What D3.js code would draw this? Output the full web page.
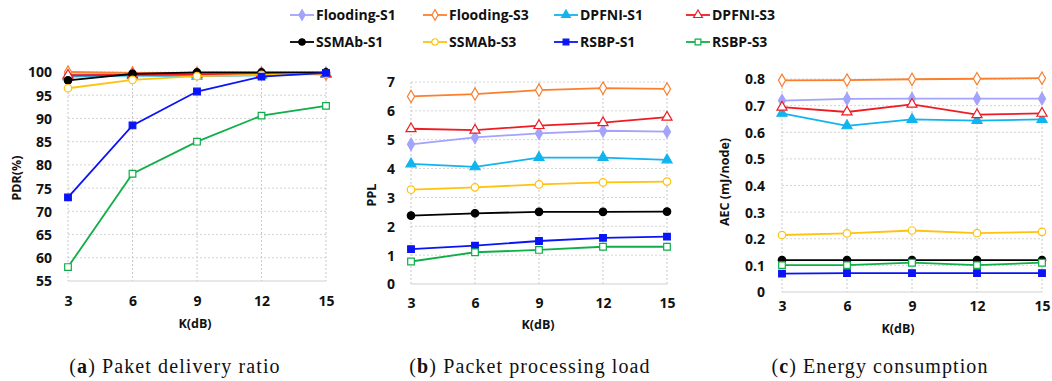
<!DOCTYPE html>
<html>
<head>
<meta charset="utf-8">
<script src="https://cdn.jsdelivr.net/npm/d3@7"></script>
<style>
  body { margin: 0; background: #fff; }
  svg { display: block; }
  .tick-label { font-family: 'Open Sans', sans-serif; font-weight: 700; font-size: 14px; fill: #111; }
  .axis-label { font-family: 'Open Sans', sans-serif; font-weight: 700; font-size: 12.5px; fill: #111; }
  .legend-text { font-family: 'Open Sans', sans-serif; font-weight: 700; font-size: 14px; fill: #111; }
  .caption { font-family: 'Liberation Serif', serif; font-size: 20px; letter-spacing: 1.1px; fill: #111; }
</style>
</head>
<body>
<svg id="chart" width="1052" height="381"></svg>
<script>
// data
const kValues = [3, 6, 9, 12, 15]
const seriesNames = ['Flooding-S1', 'Flooding-S3', 'DPFNI-S1', 'DPFNI-S3', 'SSMAb-S1', 'SSMAb-S3', 'RSBP-S1', 'RSBP-S3']

// (a) PDR(%) per series, same order as seriesNames
const pdrValues = [
    [99.5, 99.6, 99.6, 99.7, 99.7],
    [100, 99.8, 99.8, 99.8, 99.6],
    [99.0, 99.2, 99.1, 99.3, 99.7],
    [99.3, 99.4, 99.5, 99.6, 99.5],
    [98.2, 99.6, 99.9, 99.9, 99.9],
    [96.5, 98.3, 99.1, 99.4, 99.6],
    [73.0, 88.5, 95.8, 99.0, 99.8],
    [58.0, 78.1, 85.0, 90.6, 92.7]
]
// (b) PPL
const pplValues = [
    [4.84, 5.08, 5.22, 5.31, 5.28],
    [6.50, 6.58, 6.72, 6.79, 6.76],
    [4.16, 4.06, 4.38, 4.38, 4.30],
    [5.38, 5.33, 5.49, 5.59, 5.78],
    [2.37, 2.45, 2.50, 2.50, 2.51],
    [3.27, 3.35, 3.45, 3.52, 3.55],
    [1.21, 1.33, 1.49, 1.60, 1.64],
    [0.78, 1.10, 1.18, 1.29, 1.29]
]
// (c) AEC (mJ/node)
const aecValues = [
    [0.719, 0.725, 0.726, 0.726, 0.726],
    [0.795, 0.796, 0.799, 0.801, 0.803],
    [0.671, 0.624, 0.648, 0.644, 0.648],
    [0.694, 0.676, 0.705, 0.666, 0.671],
    [0.120, 0.120, 0.120, 0.120, 0.120],
    [0.214, 0.220, 0.231, 0.221, 0.226],
    [0.069, 0.071, 0.071, 0.071, 0.071],
    [0.101, 0.101, 0.110, 0.101, 0.110]
]
const pdrTicks = [55, 60, 65, 70, 75, 80, 85, 90, 95, 100]
const pplTicks = [0, 1, 2, 3, 4, 5, 6, 7]
const aecTicks = [0, 0.1, 0.2, 0.3, 0.4, 0.5, 0.6, 0.7, 0.8]

// styles
const seriesStyle = [
    { color: '#a3a3fb', symbol: d3.symbolDiamond, filled: true },
    { color: '#fb7f2c', symbol: d3.symbolDiamond, filled: false },
    { color: '#11b4ef', symbol: d3.symbolTriangle, filled: true },
    { color: '#ef1c24', symbol: d3.symbolTriangle, filled: false },
    { color: '#000000', symbol: d3.symbolCircle, filled: true },
    { color: '#ffc20e', symbol: d3.symbolCircle, filled: false },
    { color: '#0a14f5', symbol: d3.symbolSquare, filled: true },
    { color: '#0fae48', symbol: d3.symbolSquare, filled: false }
]
const symbolSize = {}
symbolSize[d3.symbolDiamond] = 42
symbolSize[d3.symbolTriangle] = 46
symbolSize[d3.symbolCircle] = 40
symbolSize[d3.symbolSquare] = 44

const svg = d3.select('#chart')

const panels = [
    { values: pdrValues, ticks: pdrTicks, domain: [55, 100], fmt: d3.format('d'),
      x0: 68, x1: 326, yTop: 72, yBottom: 281, label: 'PDR(%)', labelX: 17, labelY: 178,
      tickRight: 52, xTickY: 301, kx: 195, ky: 324, capX: 175, letter: 'a', caption: ' Paket delivery ratio' },
    { values: pplValues, ticks: pplTicks, domain: [0, 7], fmt: d3.format('d'),
      x0: 411, x1: 667, yTop: 82, yBottom: 284, label: 'PPL', labelX: 372, labelY: 195,
      tickRight: 395, xTickY: 303, kx: 538, ky: 325, capX: 530, letter: 'b', caption: ' Packet processing load' },
    { values: aecValues, ticks: aecTicks, domain: [0, 0.8], fmt: d => d === 0 ? '0' : d3.format('.1f')(d),
      x0: 782, x1: 1042, yTop: 79, yBottom: 292, label: 'AEC (mJ/node)', labelX: 725, labelY: 182,
      tickRight: 765, xTickY: 306, kx: 898, ky: 329, capX: 880, letter: 'c', caption: ' Energy consumption' }
]

panels.forEach(p => {
    const xScale = d3.scalePoint().domain(kValues).range([p.x0, p.x1])
    const yScale = d3.scaleLinear().domain(p.domain).range([p.yBottom, p.yTop])
    const g = svg.append('g')

    // grid
    g.selectAll('.hgrid')
        .data(p.ticks.slice(1))
        .join('line')
        .attr('x1', p.x0).attr('x2', p.x1)
        .attr('y1', d => yScale(d)).attr('y2', d => yScale(d))
        .attr('stroke', '#d4d4d4').attr('stroke-dasharray', '2,2').attr('stroke-width', 1)
    g.selectAll('.vgrid')
        .data(kValues)
        .join('line')
        .attr('x1', d => xScale(d)).attr('x2', d => xScale(d))
        .attr('y1', p.yTop).attr('y2', p.yBottom)
        .attr('stroke', '#c8c8c8').attr('stroke-dasharray', '2,2').attr('stroke-width', 1)
    g.append('line')
        .attr('x1', p.x0).attr('x2', p.x1)
        .attr('y1', yScale(p.domain[0])).attr('y2', yScale(p.domain[0]))
        .attr('stroke', '#d0d0d0').attr('stroke-width', 1)

    // axes (labels only)
    const yAxis = g.append('g')
        .attr('transform', `translate(${p.tickRight}, 0)`)
        .call(d3.axisLeft(yScale).tickValues(p.ticks).tickFormat(p.fmt).tickSize(0).tickPadding(0))
    yAxis.select('.domain').remove()
    yAxis.selectAll('text').attr('class', 'tick-label').attr('dy', '0.35em')

    const xAxis = g.append('g')
        .attr('transform', `translate(0, ${p.xTickY})`)
        .call(d3.axisBottom(xScale).tickSize(0).tickPadding(0))
    xAxis.select('.domain').remove()
    xAxis.selectAll('text').attr('class', 'tick-label').attr('dy', '0.35em')

    g.append('text')
        .attr('class', 'axis-label')
        .attr('text-anchor', 'middle')
        .attr('transform', `translate(${p.labelX}, ${p.labelY}) rotate(-90)`)
        .attr('dy', '0.35em')
        .text(p.label)
    g.append('text')
        .attr('class', 'axis-label')
        .attr('text-anchor', 'middle')
        .attr('x', p.kx).attr('y', p.ky)
        .attr('dy', '0.35em')
        .text('K(dB)')

    // series
    const line = d3.line().x((d, i) => xScale(kValues[i])).y(d => yScale(d))
    p.values.forEach((vals, si) => {
        const st = seriesStyle[si]
        g.append('path')
            .datum(vals)
            .attr('d', line)
            .attr('fill', 'none')
            .attr('stroke', st.color)
            .attr('stroke-width', 1.8)
        g.selectAll(null)
            .data(vals)
            .join('path')
            .attr('transform', (d, i) => `translate(${xScale(kValues[i])}, ${yScale(d)})`)
            .attr('d', d3.symbol().type(st.symbol).size(symbolSize[st.symbol]))
            .attr('fill', st.filled ? st.color : '#fff')
            .attr('stroke', st.color)
            .attr('stroke-width', 1.2)
    })

    const cap = g.append('text')
        .attr('class', 'caption')
        .attr('text-anchor', 'middle')
        .attr('x', p.capX).attr('y', 366)
        .attr('dy', '0.35em')
    cap.append('tspan').text('(')
    cap.append('tspan').attr('font-weight', 'bold').text(p.letter)
    cap.append('tspan').text(')' + p.caption)
})

// legend
const legendX = [290, 423, 554, 686]
const legendY = [15, 42]
const legend = svg.append('g')
seriesNames.forEach((name, i) => {
    const st = seriesStyle[i]
    const lx = legendX[i % 4]
    const ly = legendY[Math.floor(i / 4)]
    const item = legend.append('g').attr('transform', `translate(${lx}, ${ly})`)
    item.append('line')
        .attr('x1', 0).attr('x2', 24)
        .attr('stroke', st.color).attr('stroke-width', 1.8)
    item.append('path')
        .attr('transform', 'translate(12, 0)')
        .attr('d', d3.symbol().type(st.symbol).size(symbolSize[st.symbol] * 0.75))
        .attr('fill', st.filled ? st.color : '#fff')
        .attr('stroke', st.color)
        .attr('stroke-width', 1.2)
    item.append('text')
        .attr('class', 'legend-text')
        .attr('x', 26)
        .attr('dy', '0.35em')
        .text(name)
})
</script>
</body>
</html>
